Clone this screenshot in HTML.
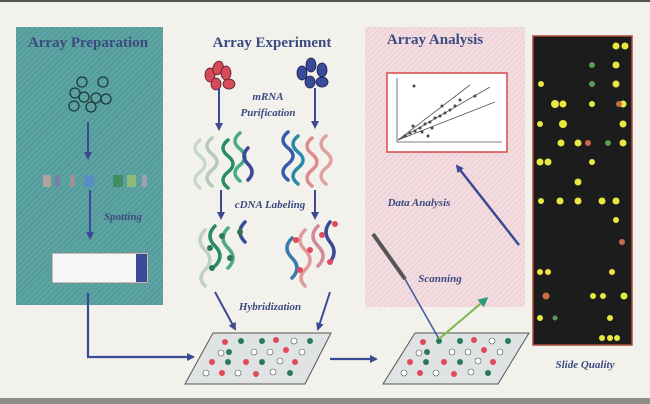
<!DOCTYPE html>
<html><head><style>
html,body{margin:0;padding:0;background:#f2f1ec;}
svg{display:block;}
text{font-family:"Liberation Serif",serif;}
</style></head><body>
<svg width="650" height="404" viewBox="0 0 650 404" xmlns="http://www.w3.org/2000/svg">
<defs>
<pattern id="hg" width="4" height="4" patternUnits="userSpaceOnUse" patternTransform="rotate(45)"><rect width="4" height="4" fill="#5ea69c"/><rect width="1.3" height="4" fill="#4f95a6"/></pattern>
<pattern id="hp" width="4" height="4" patternUnits="userSpaceOnUse" patternTransform="rotate(45)"><rect width="4" height="4" fill="#f4dde1"/><rect width="1.2" height="4" fill="#ead0d6"/></pattern>
<marker id="ab" markerWidth="8" markerHeight="8" refX="6" refY="4" orient="auto" markerUnits="userSpaceOnUse"><path d="M0,0 L8,4 L0,8 z" fill="#3a4a94"/></marker>
<marker id="ag" markerWidth="10" markerHeight="10" refX="7" refY="5" orient="auto" markerUnits="userSpaceOnUse"><path d="M0,0 L10,5 L0,10 z" fill="#2f9a7a"/></marker>
</defs>
<rect width="650" height="404" fill="#f2f1ec"/>
<rect width="650" height="2" fill="#555"/>
<rect y="398" width="650" height="6" fill="#8d8d8a"/>

<!-- green panel -->
<rect x="16" y="27" width="147" height="278" fill="url(#hg)"/>
<text x="88" y="47" text-anchor="middle" font-size="15" font-weight="bold" fill="#3b4a80">Array Preparation</text>
<g fill="none" stroke="#1e3a3a" stroke-width="1.3">
<circle cx="75" cy="93" r="5"/><circle cx="82" cy="82" r="5"/><circle cx="103" cy="82" r="5"/>
<circle cx="84" cy="97" r="5"/><circle cx="96" cy="98" r="5"/><circle cx="106" cy="99" r="5"/>
<circle cx="74" cy="106" r="5"/><circle cx="91" cy="107" r="5"/></g>
<line x1="88" y1="122" x2="88" y2="158" stroke="#3a4a94" stroke-width="2" marker-end="url(#ab)"/>
<g opacity="0.8">
<rect x="43" y="175" width="8" height="12" fill="#c9a0a0"/><rect x="55" y="175" width="5" height="12" fill="#7a7aa8"/>
<rect x="70" y="175" width="5" height="12" fill="#b09090"/><rect x="84" y="175" width="10" height="12" fill="#5a8ad0"/>
<rect x="113" y="175" width="10" height="12" fill="#3a8a5a"/><rect x="127" y="175" width="9" height="12" fill="#a0c070"/>
<rect x="142" y="175" width="5" height="12" fill="#b0a0b0"/></g>
<text x="123" y="220" text-anchor="middle" font-size="11" font-style="italic" font-weight="bold" fill="#3b4a80">Spotting</text>
<line x1="90" y1="190" x2="90" y2="238" stroke="#3a4a94" stroke-width="2" marker-end="url(#ab)"/>
<rect x="52" y="253" width="96" height="30" fill="#f6f6f6" stroke="#888"/>
<rect x="136" y="254" width="11" height="28" fill="#3a4a94"/>
<polyline points="88,293 88,357 193,357" fill="none" stroke="#3a4a94" stroke-width="2.2" marker-end="url(#ab)"/>

<!-- experiment -->
<text x="272" y="47" text-anchor="middle" font-size="15" font-weight="bold" fill="#3b4a80">Array Experiment</text>
<g fill="#d64a5a" stroke="#5a1a2a" stroke-width="0.8">
<ellipse cx="210" cy="75" rx="5" ry="7"/><ellipse cx="218" cy="68" rx="5" ry="7" transform="rotate(20 218 68)"/>
<ellipse cx="226" cy="73" rx="5" ry="7"/><ellipse cx="216" cy="84" rx="5" ry="6"/><ellipse cx="229" cy="84" rx="6" ry="5"/></g>
<g fill="#3a4a9a" stroke="#1a1a4a" stroke-width="0.8">
<ellipse cx="302" cy="73" rx="5" ry="7"/><ellipse cx="311" cy="65" rx="5" ry="7"/>
<ellipse cx="322" cy="70" rx="5" ry="7"/><ellipse cx="310" cy="82" rx="5" ry="6"/><ellipse cx="322" cy="82" rx="6" ry="5"/></g>
<text x="268" y="100" text-anchor="middle" font-size="11" font-style="italic" font-weight="bold" fill="#3b4a80">mRNA</text>
<text x="268" y="116" text-anchor="middle" font-size="11" font-style="italic" font-weight="bold" fill="#3b4a80">Purification</text>
<line x1="219" y1="88" x2="219" y2="129" stroke="#3a4a94" stroke-width="2" marker-end="url(#ab)"/>
<line x1="315" y1="88" x2="315" y2="127" stroke="#3a4a94" stroke-width="2" marker-end="url(#ab)"/>
<g fill="none" stroke-width="3.5" stroke-linecap="round">
<path d="M200,140 q-10,8 0,16 q10,8 0,16 q-10,8 0,16" stroke="#c8d8cc"/>
<path d="M212,138 q-10,8 0,16 q10,8 0,16 q-10,8 0,16" stroke="#b8c8c0"/>
<path d="M228,140 q-10,8 0,16 q10,8 0,16 q-10,8 0,16" stroke="#2a8a6a"/>
<path d="M240,133 q-10,8 0,16 q10,8 0,16 q-10,8 0,16" stroke="#4aaa8a"/>
<path d="M248,148 q-8,8 0,16 q8,8 0,16" stroke="#3a4a94"/>
<path d="M288,132 q-10,8 0,16 q10,8 0,16 q-10,8 0,16" stroke="#3a5aaa"/>
<path d="M298,136 q-10,8 0,16 q10,8 0,16 q-10,8 0,16" stroke="#2a8aaa"/>
<path d="M312,138 q-10,8 0,16 q10,8 0,16 q-10,8 0,16" stroke="#e08a8a"/>
<path d="M326,136 q-10,8 0,16 q10,8 0,16 q-10,8 0,16" stroke="#e0a0a0"/>
</g>
<text x="270" y="208" text-anchor="middle" font-size="11" font-style="italic" font-weight="bold" fill="#3b4a80">cDNA Labeling</text>
<line x1="221" y1="190" x2="221" y2="218" stroke="#3a4a94" stroke-width="2" marker-end="url(#ab)"/>
<line x1="315" y1="190" x2="315" y2="218" stroke="#3a4a94" stroke-width="2" marker-end="url(#ab)"/>
<g fill="none" stroke-width="3.5" stroke-linecap="round">
<path d="M205,230 q-10,10 0,20 q10,10 0,20 q-8,8 0,16" stroke="#c0d0c8"/>
<path d="M215,226 q-10,10 0,20 q10,10 0,20" stroke="#2a8a6a"/>
<path d="M228,228 q-10,10 0,20 q10,10 0,20" stroke="#4aaa8a"/>
<path d="M245,222 q-10,10 0,20" stroke="#3a4a94"/>
<path d="M292,238 q-10,10 0,20 q10,10 0,20" stroke="#3a7aaa"/>
<path d="M305,230 q-10,10 0,20 q10,10 0,20 q-8,8 0,16" stroke="#e09a9a"/>
<path d="M318,226 q-10,10 0,20 q10,10 0,20" stroke="#d08a9a"/>
<path d="M330,222 q-8,10 0,20 q8,10 0,20" stroke="#3a4a94"/>
</g>
<g fill="#2a7a5a"><circle cx="210" cy="248" r="3"/><circle cx="222" cy="236" r="3"/><circle cx="230" cy="258" r="3"/><circle cx="212" cy="268" r="3"/><circle cx="240" cy="232" r="3"/></g>
<g fill="#e04a5a"><circle cx="296" cy="240" r="3"/><circle cx="310" cy="250" r="3"/><circle cx="322" cy="235" r="3"/><circle cx="300" cy="270" r="3"/><circle cx="330" cy="262" r="3"/><circle cx="335" cy="224" r="3"/></g>
<text x="270" y="310" text-anchor="middle" font-size="11" font-style="italic" font-weight="bold" fill="#3b4a80">Hybridization</text>
<line x1="215" y1="292" x2="235" y2="329" stroke="#3a4a94" stroke-width="2" marker-end="url(#ab)"/>
<line x1="330" y1="292" x2="318" y2="329" stroke="#3a4a94" stroke-width="2" marker-end="url(#ab)"/>

<!-- slides -->
<g stroke="#555" stroke-width="1">
<polygon points="213,333 331,333 305,384 185,384" fill="#dfe3e4"/>
<polygon points="415,333 529,333 498,384 383,384" fill="#dfe3e4"/>
</g>
<g id="dots">
<circle cx="225" cy="342" r="3" fill="#e04a5a"/><circle cx="241" cy="341" r="3" fill="#2a7a5a"/><circle cx="262" cy="341" r="3" fill="#2a7a5a"/><circle cx="276" cy="340" r="3" fill="#e04a5a"/><circle cx="294" cy="341" r="3" fill="#fff" stroke="#555" stroke-width=".6"/><circle cx="310" cy="341" r="3" fill="#2a7a5a"/>
<circle cx="221" cy="353" r="3" fill="#fff" stroke="#555" stroke-width=".6"/><circle cx="229" cy="352" r="3" fill="#2a7a5a"/><circle cx="254" cy="352" r="3" fill="#fff" stroke="#555" stroke-width=".6"/><circle cx="270" cy="352" r="3" fill="#fff" stroke="#555" stroke-width=".6"/><circle cx="286" cy="350" r="3" fill="#e04a5a"/><circle cx="302" cy="352" r="3" fill="#fff" stroke="#555" stroke-width=".6"/>
<circle cx="212" cy="362" r="3" fill="#e04a5a"/><circle cx="228" cy="362" r="3" fill="#2a7a5a"/><circle cx="246" cy="362" r="3" fill="#e04a5a"/><circle cx="262" cy="362" r="3" fill="#2a7a5a"/><circle cx="280" cy="361" r="3" fill="#fff" stroke="#555" stroke-width=".6"/><circle cx="295" cy="362" r="3" fill="#e04a5a"/>
<circle cx="206" cy="373" r="3" fill="#fff" stroke="#555" stroke-width=".6"/><circle cx="222" cy="373" r="3" fill="#e04a5a"/><circle cx="238" cy="373" r="3" fill="#fff" stroke="#555" stroke-width=".6"/><circle cx="256" cy="374" r="3" fill="#e04a5a"/><circle cx="273" cy="372" r="3" fill="#fff" stroke="#555" stroke-width=".6"/><circle cx="290" cy="373" r="3" fill="#2a7a5a"/>
</g>
<use href="#dots" transform="translate(198,0)"/>
<line x1="330" y1="359" x2="376" y2="359" stroke="#3a4a94" stroke-width="2.2" marker-end="url(#ab)"/>

<!-- pink panel -->
<rect x="365" y="27" width="160" height="280" fill="url(#hp)"/>
<text x="435" y="44" text-anchor="middle" font-size="15" font-weight="bold" fill="#3b4a80">Array Analysis</text>
<rect x="387" y="73" width="120" height="79" fill="#fff" stroke="#d84848" stroke-width="1.5"/>
<g stroke="#555" stroke-width="0.8" fill="none">
<line x1="397" y1="78" x2="397" y2="142"/><line x1="397" y1="142" x2="502" y2="142"/>
<line x1="398" y1="140" x2="470" y2="85"/><line x1="398" y1="140" x2="490" y2="87"/><line x1="398" y1="140" x2="495" y2="102"/></g>
<g fill="#445"><circle cx="405" cy="136" r="1.5"/><circle cx="410" cy="133" r="1.5"/><circle cx="415" cy="131" r="1.5"/><circle cx="420" cy="128" r="1.5"/><circle cx="425" cy="124" r="1.5"/><circle cx="430" cy="122" r="1.5"/><circle cx="435" cy="118" r="1.5"/><circle cx="440" cy="116" r="1.5"/><circle cx="445" cy="113" r="1.5"/><circle cx="450" cy="110" r="1.5"/><circle cx="455" cy="106" r="1.5"/><circle cx="413" cy="126" r="1.5"/><circle cx="422" cy="132" r="1.5"/><circle cx="432" cy="128" r="1.5"/><circle cx="442" cy="106" r="1.5"/><circle cx="460" cy="100" r="1.5"/><circle cx="475" cy="96" r="1.5"/><circle cx="414" cy="86" r="1.5"/><circle cx="428" cy="136" r="1.5"/></g>
<line x1="519" y1="245" x2="457" y2="166" stroke="#3a4a94" stroke-width="2.5" marker-end="url(#ab)"/>
<text x="419" y="206" text-anchor="middle" font-size="11" font-style="italic" font-weight="bold" fill="#3b4a80">Data Analysis</text>
<text x="440" y="282" text-anchor="middle" font-size="11" font-style="italic" font-weight="bold" fill="#3b4a80">Scanning</text>
<line x1="373" y1="234" x2="405" y2="279" stroke="#555" stroke-width="4"/>
<line x1="405" y1="279" x2="439" y2="339" stroke="#3a5a9a" stroke-width="1.5"/>
<line x1="439" y1="339" x2="486" y2="299" stroke="#7ab84a" stroke-width="2" marker-end="url(#ag)"/>

<!-- slide quality -->
<rect x="533" y="36" width="99" height="309" fill="#1c1c1c" stroke="#b04a3a" stroke-width="1.5"/>
<g fill="#e8e840">
<circle cx="616" cy="46" r="3.5"/><circle cx="625" cy="46" r="3.5"/><circle cx="616" cy="65" r="3.5"/><circle cx="541" cy="84" r="3"/><circle cx="616" cy="84" r="3.5"/>
<circle cx="555" cy="104" r="4"/><circle cx="563" cy="104" r="3.5"/><circle cx="592" cy="104" r="3"/><circle cx="623" cy="104" r="3.5"/>
<circle cx="540" cy="124" r="3"/><circle cx="563" cy="124" r="4"/><circle cx="623" cy="124" r="3.5"/>
<circle cx="561" cy="143" r="3.5"/><circle cx="578" cy="143" r="3.5"/><circle cx="623" cy="143" r="3.5"/>
<circle cx="540" cy="162" r="3.5"/><circle cx="548" cy="162" r="3.5"/><circle cx="592" cy="162" r="3"/>
<circle cx="578" cy="182" r="3.5"/><circle cx="541" cy="201" r="3"/><circle cx="560" cy="201" r="3.5"/><circle cx="578" cy="201" r="3.5"/><circle cx="602" cy="201" r="3.5"/><circle cx="616" cy="201" r="3.5"/>
<circle cx="616" cy="220" r="3"/><circle cx="540" cy="272" r="3"/><circle cx="548" cy="272" r="3"/><circle cx="612" cy="272" r="3"/>
<circle cx="593" cy="296" r="3"/><circle cx="603" cy="296" r="3"/><circle cx="624" cy="296" r="3.5"/><circle cx="610" cy="318" r="3"/>
<circle cx="540" cy="318" r="3"/><circle cx="610" cy="338" r="3"/><circle cx="617" cy="338" r="3"/><circle cx="602" cy="338" r="3"/></g>
<g fill="#c86a4a"><circle cx="588" cy="143" r="3"/><circle cx="619" cy="104" r="3"/><circle cx="622" cy="242" r="3"/><circle cx="546" cy="296" r="3.5"/></g>
<g fill="#5a9a5a"><circle cx="592" cy="65" r="3"/><circle cx="592" cy="84" r="3"/><circle cx="608" cy="143" r="3"/><circle cx="555" cy="318" r="2.5"/></g>
<text x="585" y="368" text-anchor="middle" font-size="11" font-style="italic" font-weight="bold" fill="#3b4a80">Slide Quality</text>
</svg>
</body></html>
